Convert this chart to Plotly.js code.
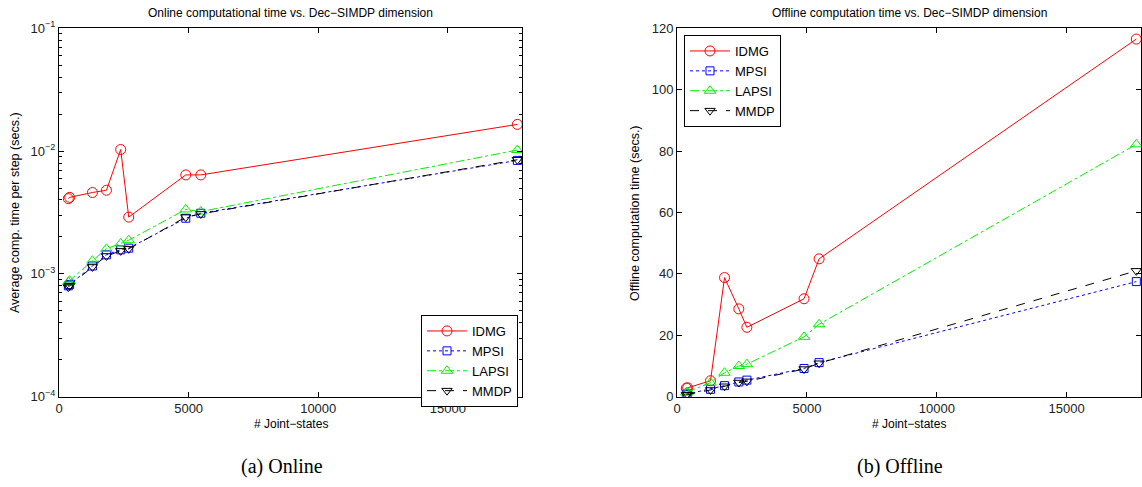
<!DOCTYPE html>
<html>
<head>
<meta charset="utf-8">
<script src="https://cdn.plot.ly/plotly-3.0.1.min.js"></script>
<style>html,body{margin:0;padding:0;background:#fff;}#chart{width:1142px;height:487px;}</style>
</head>
<body>
<div id="chart"></div>
<script>
// ---- data ----
const jointStates = [360, 410, 1290, 1830, 2380, 2690, 4890, 5470, 17680];

const onlineIDMG  = [0.0041, 0.0042, 0.0046, 0.0048, 0.0103, 0.0029, 0.0064, 0.0064, 0.0165];
const onlineMPSI  = [0.00080, 0.00082, 0.00116, 0.00143, 0.00157, 0.00162, 0.00284, 0.00312, 0.0084];
const onlineLAPSI = [0.00086, 0.00088, 0.00128, 0.00160, 0.00177, 0.00188, 0.00335, 0.00322, 0.0102];
const onlineMMDP  = [0.00078, 0.00080, 0.00114, 0.00140, 0.00154, 0.00160, 0.00290, 0.00308, 0.0085];

const offlineIDMG  = [2.8, 2.9, 5.2, 38.8, 28.6, 22.6, 31.9, 44.9, 116.5];
const offlineMPSI  = [0.8, 0.9, 2.4, 3.6, 4.8, 5.4, 9.2, 11.1, 37.5];
const offlineLAPSI = [1.4, 1.5, 4.6, 7.8, 10.0, 10.6, 19.5, 23.6, 82.2];
const offlineMMDP  = [0.6, 0.7, 2.2, 3.4, 4.6, 5.0, 9.0, 10.9, 41.0];

const seriesNames = ['IDMG', 'MPSI', 'LAPSI', 'MMDP'];
const xTickVals = [0, 5000, 10000, 15000];
const xTickText = ['0', '5000', '10000', '15000'];
const logTickVals = [1e-4, 1e-3, 1e-2, 1e-1];
const logTickText = ['10<sup>−4</sup>', '10<sup>−3</sup>', '10<sup>−2</sup>', '10<sup>−1</sup>'];
const linTickVals = [0, 20, 40, 60, 80, 100, 120];

// ---- styles ----
const styles = [
  {color: '#ff0000', dash: 'solid',   symbol: 'circle-open',        size: 10},
  {color: '#0000ff', dash: 'dot',     symbol: 'square-open',        size: 8},
  {color: '#00ee00', dash: 'dashdot', symbol: 'triangle-up-open',   size: 10},
  {color: '#000000', dash: 'dash',    symbol: 'triangle-down-open', size: 9}
];

const onlineSeries = [onlineIDMG, onlineMPSI, onlineLAPSI, onlineMMDP];
const offlineSeries = [offlineIDMG, offlineMPSI, offlineLAPSI, offlineMMDP];

const traces = [];
onlineSeries.forEach((ys, i) => {
  const s = styles[i];
  traces.push({
    x: jointStates, y: ys, name: seriesNames[i], xaxis: 'x', yaxis: 'y',
    mode: 'lines+markers', legend: 'legend',
    line: {color: s.color, dash: s.dash, width: 1},
    marker: {symbol: s.symbol, size: s.size, color: s.color, line: {width: 1, color: s.color}}
  });
});
offlineSeries.forEach((ys, i) => {
  const s = styles[i];
  traces.push({
    x: jointStates, y: ys, name: seriesNames[i], xaxis: 'x2', yaxis: 'y2',
    mode: 'lines+markers', legend: 'legend2',
    line: {color: s.color, dash: s.dash, width: 1},
    marker: {symbol: s.symbol, size: s.size, color: s.color, line: {width: 1, color: s.color}}
  });
});

// minor log tick positions
const minorLog = [];
for (let e = -4; e < -1; e++) {
  for (let m = 2; m <= 9; m++) minorLog.push(m * Math.pow(10, e));
}

const W = 1142, H = 487;
const yDom = [1 - 396.7 / H, 1 - 28.3 / H];
const font = {family: 'Liberation Sans, Arial, sans-serif', color: '#000'};

const axisBase = {
  showline: true, linecolor: '#000', linewidth: 1, mirror: 'ticks',
  ticks: 'inside', ticklen: 5, tickcolor: '#000', showgrid: false, zeroline: false,
  tickfont: {family: font.family, size: 13, color: '#222'}
};

function ann(text, xpx, ypx, size, extra) {
  return Object.assign({
    text: text, x: xpx / W, y: 1 - ypx / H, xref: 'paper', yref: 'paper',
    xanchor: 'center', yanchor: 'middle', showarrow: false,
    font: {family: font.family, size: size, color: '#000'}
  }, extra || {});
}

const layout = {
  width: W, height: H,
  margin: {l: 0, r: 0, t: 0, b: 0},
  paper_bgcolor: '#fff', plot_bgcolor: '#fff',
  font: font,
  showlegend: true,
  xaxis: Object.assign({}, axisBase, {
    domain: [59 / W, 522 / W], range: [0, 17860], tickmode: 'array',
    tickvals: xTickVals, ticktext: xTickText, anchor: 'y'
  }),
  yaxis: Object.assign({}, axisBase, {
    domain: yDom, type: 'log', range: [-4, -1], tickmode: 'array',
    tickvals: logTickVals, ticktext: logTickText, anchor: 'x',
    minor: {tickmode: 'array', tickvals: minorLog, ticks: 'inside', ticklen: 3, tickcolor: '#000', showgrid: false}
  }),
  xaxis2: Object.assign({}, axisBase, {
    domain: [677 / W, 1141 / W], range: [0, 17860], tickmode: 'array',
    tickvals: xTickVals, ticktext: xTickText, anchor: 'y2'
  }),
  yaxis2: Object.assign({}, axisBase, {
    domain: yDom, range: [0, 120], tickmode: 'array', tickvals: linTickVals, anchor: 'x2'
  }),
  legend: {
    x: 518 / W, y: 1 - 315 / H, xanchor: 'right', yanchor: 'top',
    bgcolor: '#fff', bordercolor: '#000', borderwidth: 1,
    font: {family: font.family, size: 13, color: '#000'},
    tracegroupgap: 0, itemwidth: 40
  },
  legend2: {
    x: 684 / W, y: 1 - 35 / H, xanchor: 'left', yanchor: 'top',
    bgcolor: '#fff', bordercolor: '#000', borderwidth: 1,
    font: {family: font.family, size: 13, color: '#000'},
    tracegroupgap: 0, itemwidth: 40
  },
  annotations: [
    ann('Online computational time vs. Dec−SIMDP dimension', 290.5, 13, 12),
    ann('Offline computation time vs. Dec−SIMDP dimension', 909, 13, 12),
    ann('# Joint−states', 290.5, 424, 12),
    ann('# Joint−states', 909, 424, 12),
    ann('Average comp. time per step (secs.)', 15, 213, 12.5, {textangle: -90}),
    ann('Offline computation time (secs.)', 635, 213, 12.5, {textangle: -90}),
    ann('(a) Online', 282, 466, 20, {font: {family: 'Liberation Serif, Times New Roman, serif', size: 20, color: '#000'}}),
    ann('(b) Offline', 900, 466, 20, {font: {family: 'Liberation Serif, Times New Roman, serif', size: 20, color: '#000'}})
  ]
};

Plotly.newPlot('chart', traces, layout, {displayModeBar: false, staticPlot: true});
</script>
</body>
</html>
